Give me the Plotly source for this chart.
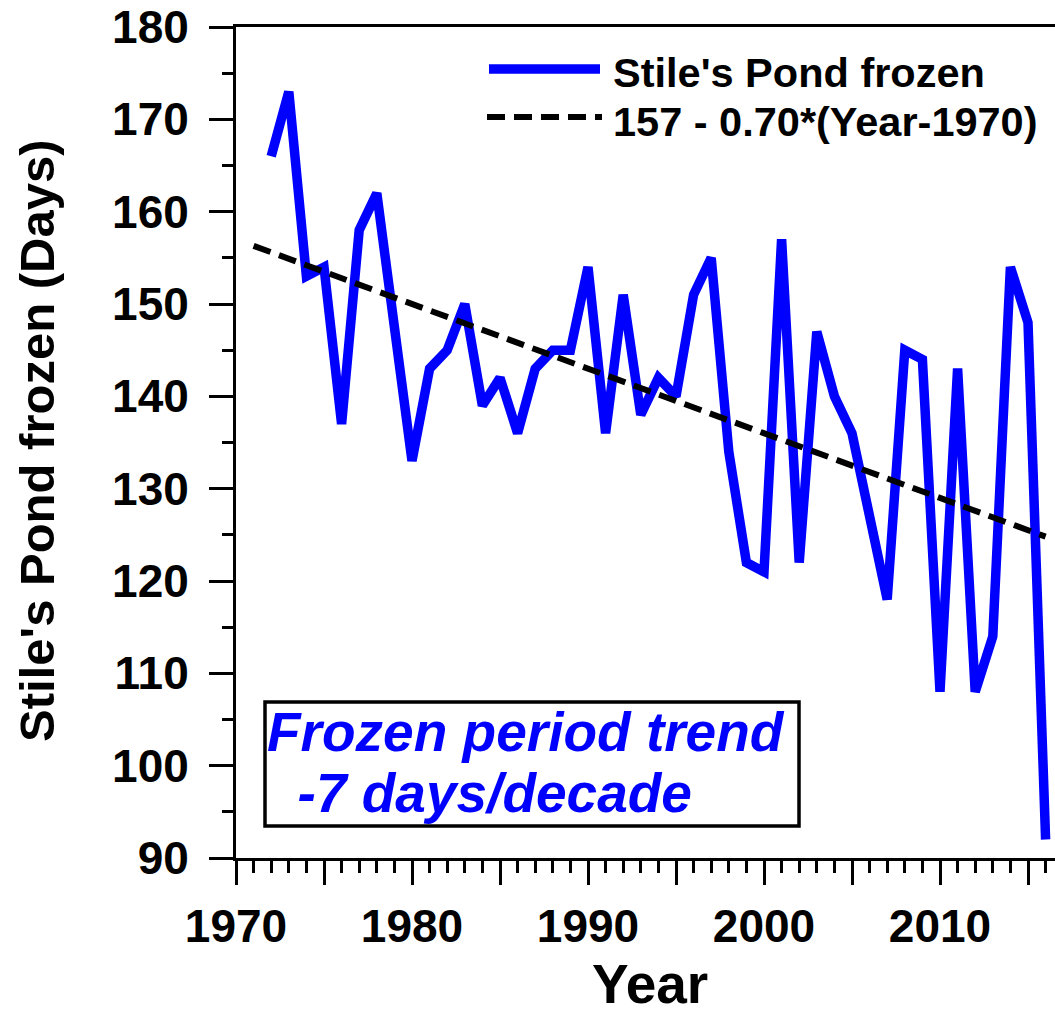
import plotly.graph_objects as go

# ---- data ----
years = [1972, 1973, 1974, 1975, 1976, 1977, 1978, 1979, 1980, 1981,
         1982, 1983, 1984, 1985, 1986, 1987, 1988, 1989, 1990, 1991,
         1992, 1993, 1994, 1995, 1996, 1997, 1998, 1999, 2000, 2001,
         2002, 2003, 2004, 2005, 2006, 2007, 2008, 2009, 2010, 2011,
         2012, 2013, 2014, 2015, 2016]
frozen_days = [166, 173, 153, 154, 137, 158, 162, 148, 133, 143,
               145, 150, 139, 142, 136, 143, 145, 145, 154, 136,
               151, 138, 142, 140, 151, 155, 134, 122, 121, 157,
               122, 147, 140, 136, 127, 118, 145, 144, 108, 143,
               108, 114, 154, 148, 92]
trend_years = [1971, 2016]
trend_days = [156.3, 124.8]

x_major_ticks = [1970, 1975, 1980, 1985, 1990, 1995, 2000, 2005, 2010, 2015]
x_tick_text = ["1970", "", "1980", "", "1990", "", "2000", "", "2010", ""]
y_ticks = [90, 100, 110, 120, 130, 140, 150, 160, 170, 180]

series_name = "Stile's Pond frozen"
trend_name = "157 - 0.70*(Year-1970)"
box_line1 = "Frozen period trend"
box_line2 = "\u00a0\u00a0-7 days/decade"

# ---- layout geometry (pixels) ----
W, H = 1055, 1017
L, R, T, B = 236, 0, 27, 159
PW, PH = W - L - R, H - T - B


def px(xp):
    return (xp - L) / PW


def py(yp):
    return (H - B - yp) / PH


FONT = "Liberation Sans, Arial, sans-serif"
BLUE = "#0000FF"

fig = go.Figure()
fig.add_trace(go.Scatter(x=years, y=frozen_days, mode="lines", name=series_name,
                         line=dict(color=BLUE, width=9.5), showlegend=False))
fig.add_trace(go.Scatter(x=trend_years, y=trend_days, mode="lines", name=trend_name,
                         line=dict(color="black", width=6, dash="18px,9px"),
                         showlegend=False))

axis_common = dict(showgrid=False, zeroline=False, showline=True, linecolor="black",
                   linewidth=3, ticks="outside", tickcolor="black", tickwidth=3,
                   ticklen=24,
                   tickfont=dict(family=FONT, size=46, color="black", weight="bold"))

fig.update_xaxes(range=[1970, 1970 + PW / 17.6], tickmode="array",
                 tickvals=x_major_ticks, ticktext=x_tick_text, mirror=True,
                 ticklabelstandoff=2,
                 minor=dict(dtick=1, tick0=1970, ticks="outside", ticklen=12,
                            tickwidth=3, tickcolor="black"),
                 **axis_common)
fig.update_yaxes(range=[90, 180], tickmode="array", tickvals=y_ticks,
                 ticklabelstandoff=11,
                 minor=dict(dtick=5, tick0=90, ticks="outside", ticklen=11,
                            tickwidth=3, tickcolor="black"),
                 **axis_common)

annotations = [
    dict(text="Stile's Pond frozen (Days)", x=px(37), y=py(441), xref="paper", yref="paper",
         textangle=-90, showarrow=False, xanchor="center", yanchor="middle",
         font=dict(family=FONT, size=49, color="black", weight="bold")),
    dict(text="Year", x=px(650), y=py(1016), xref="paper", yref="paper",
         showarrow=False, xanchor="center", yanchor="bottom", borderpad=0,
         font=dict(family=FONT, size=55, color="black", weight="bold")),
    dict(text=series_name, x=px(611), y=py(73), xref="paper", yref="paper",
         showarrow=False, xanchor="left", yanchor="middle",
         font=dict(family=FONT, size=41.5, color="black", weight="bold")),
    dict(text=trend_name, x=px(611), y=py(121), xref="paper", yref="paper",
         showarrow=False, xanchor="left", yanchor="middle",
         font=dict(family=FONT, size=41.5, color="black", weight="bold")),
    dict(text=box_line1, x=px(265), y=py(732), xref="paper", yref="paper",
         showarrow=False, xanchor="left", yanchor="middle",
         font=dict(family=FONT, size=55, color=BLUE, weight="bold", style="italic")),
    dict(text=box_line2, x=px(265), y=py(793), xref="paper", yref="paper",
         showarrow=False, xanchor="left", yanchor="middle",
         font=dict(family=FONT, size=55, color=BLUE, weight="bold", style="italic")),
]

shapes = [
    dict(type="line", xref="paper", yref="paper", x0=px(489), x1=px(600), y0=py(69), y1=py(69),
         line=dict(color=BLUE, width=9.5)),
    dict(type="line", xref="paper", yref="paper", x0=px(487), x1=px(602), y0=py(117), y1=py(117),
         line=dict(color="black", width=6, dash="18px,9px")),
    dict(type="rect", xref="paper", yref="paper", x0=px(265), x1=px(799), y0=py(702), y1=py(826),
         line=dict(color="black", width=3.5), fillcolor="rgba(0,0,0,0)"),
]

fig.update_layout(width=W, height=H, margin=dict(l=L, r=R, t=T, b=B, autoexpand=False),
                  paper_bgcolor="white", plot_bgcolor="white",
                  annotations=annotations, shapes=shapes, showlegend=False)

fig.write_html("out.html", config={"displayModeBar": False},
               post_script="document.body.style.margin='0';document.body.style.overflow='hidden';")
